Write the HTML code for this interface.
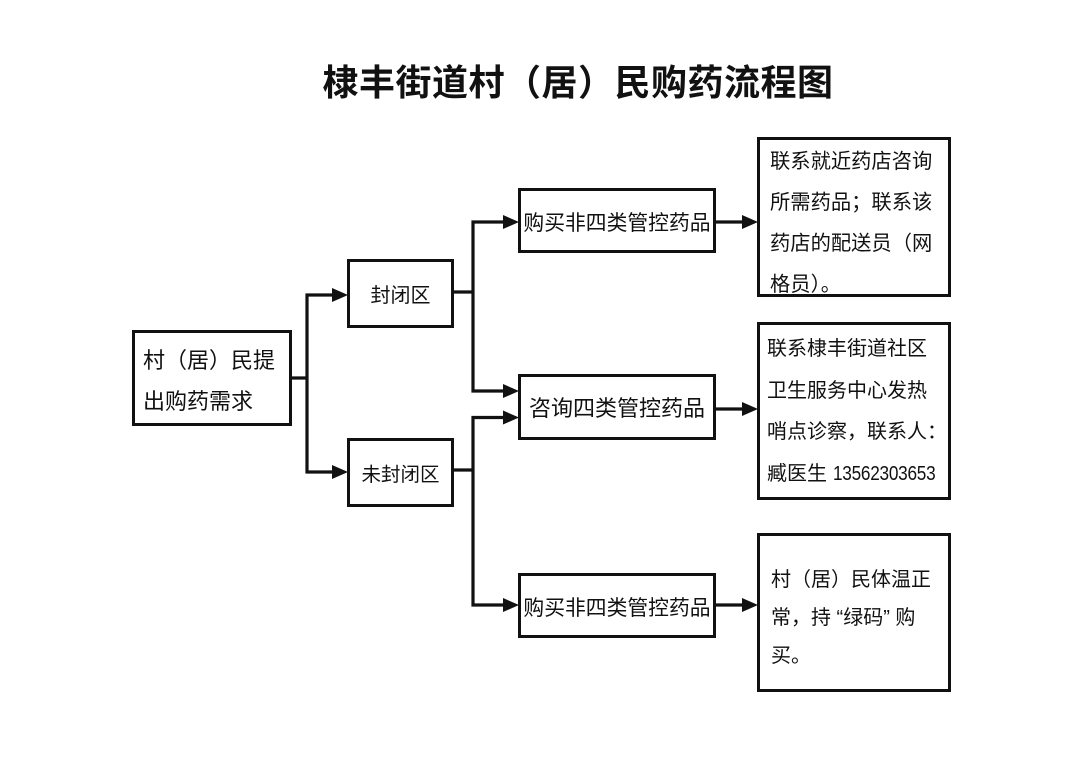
<!DOCTYPE html>
<html>
<head>
<meta charset="utf-8">
<style>
  html,body{margin:0;padding:0;background:#fff;}
  body{width:1080px;height:763px;position:relative;overflow:hidden;
    font-family:"Liberation Sans","Noto Sans CJK SC",sans-serif;color:#111;}
  .title{position:absolute;left:0;width:1080px;top:58px;text-align:center;
    font-size:36px;font-weight:bold;line-height:50px;letter-spacing:0.5px;padding-left:76px;box-sizing:border-box;}
  .box{position:absolute;box-sizing:border-box;border:3px solid #111;background:#fff;}
  .c{display:flex;align-items:center;justify-content:center;white-space:nowrap;}
  .t{white-space:nowrap;}
  svg{position:absolute;left:0;top:0;}
</style>
</head>
<body>
<div class="title">棣丰街道村（居）民购药流程图</div>

<svg width="1080" height="763" viewBox="0 0 1080 763">
  <g stroke="#111" stroke-width="3.2" fill="none">
    <line x1="290" y1="378" x2="307" y2="378"/>
    <line x1="307" y1="294" x2="307" y2="473"/>
    <line x1="305.5" y1="295" x2="334" y2="295"/>
    <line x1="305.5" y1="472" x2="334" y2="472"/>
    <line x1="453" y1="292" x2="473" y2="292"/>
    <line x1="473" y1="220.5" x2="473" y2="392.5"/>
    <line x1="471.5" y1="222" x2="505" y2="222"/>
    <line x1="471.5" y1="391" x2="505" y2="391"/>
    <line x1="453" y1="470" x2="473" y2="470"/>
    <line x1="473" y1="416" x2="473" y2="606.5"/>
    <line x1="471.5" y1="417.5" x2="505" y2="417.5"/>
    <line x1="471.5" y1="605" x2="505" y2="605"/>
    <line x1="715" y1="222" x2="744" y2="222"/>
    <line x1="715" y1="409" x2="744" y2="409"/>
    <line x1="715" y1="605" x2="744" y2="605"/>
  </g>
  <g fill="#111">
    <polygon points="332,288 348,295 332,302"/>
    <polygon points="332,465 348,472 332,479"/>
    <polygon points="503,215 519,222 503,229"/>
    <polygon points="503,384 519,391 503,398"/>
    <polygon points="503,410.5 519,417.5 503,424.5"/>
    <polygon points="503,598 519,605 503,612"/>
    <polygon points="742,215 758,222 742,229"/>
    <polygon points="742,402 758,409 742,416"/>
    <polygon points="742,598 758,605 742,612"/>
  </g>
</svg>

<div class="box" style="left:132px;top:330px;width:160px;height:96px;">
  <div class="t" style="position:absolute;left:8px;top:7px;font-size:22px;line-height:41px;">村（居）民提<br>出购药需求</div>
</div>

<div class="box c" style="left:347px;top:259px;width:107px;height:69px;font-size:20px;">封闭区</div>
<div class="box c" style="left:347px;top:438px;width:107px;height:69px;font-size:19.5px;">未封闭区</div>

<div class="box c" style="left:518px;top:188px;width:198px;height:65px;font-size:20.8px;">购买非四类管控药品</div>
<div class="box c" style="left:518px;top:374px;width:198px;height:66px;font-size:22px;">咨询四类管控药品</div>
<div class="box c" style="left:518px;top:573px;width:198px;height:65px;font-size:20.8px;">购买非四类管控药品</div>

<div class="box" style="left:757px;top:137px;width:194px;height:160px;">
  <div class="t" style="position:absolute;left:10px;top:2px;font-size:20.3px;line-height:41px;">联系就近药店咨询<br>所需药品；联系该<br>药店的配送员（网<br>格员）。</div>
</div>

<div class="box" style="left:757px;top:322px;width:194px;height:178px;">
  <div class="t" style="position:absolute;left:7px;top:4px;font-size:20px;line-height:41.5px;">联系棣丰街道社区<br>卫生服务中心发热<br>哨点诊察，联系人：<br>臧医生 <span style="display:inline-block;font-family:'Liberation Sans',sans-serif;font-size:20px;transform:scaleX(0.86);transform-origin:0 50%;letter-spacing:-0.3px;">13562303653</span></div>
</div>

<div class="box" style="left:757px;top:533px;width:194px;height:159px;">
  <div class="t" style="position:absolute;left:11px;top:25px;font-size:20px;line-height:38px;">村（居）民体温正<br>常，持 “绿码” 购<br>买。</div>
</div>
</body>
</html>
